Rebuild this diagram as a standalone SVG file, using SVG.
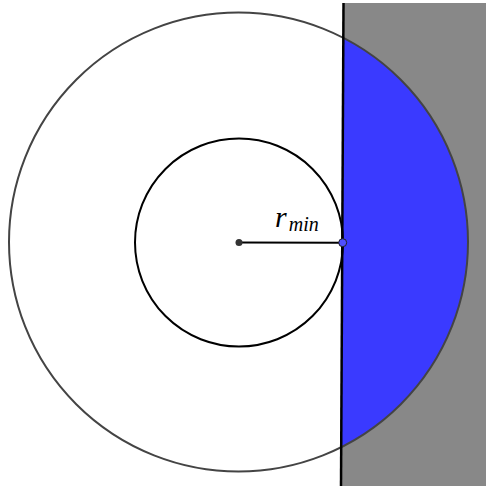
<svg xmlns="http://www.w3.org/2000/svg" width="486" height="486" viewBox="0 0 486 486">
<style>
.lbl{font-family:"Liberation Serif","DejaVu Serif",serif;font-style:italic;fill:#000}
</style>
<rect width="486" height="486" fill="#fff"/>
<g id="halfplane">
<polygon points="343.5,3 486,3 486,486 341,486" fill="#888888"/>
</g>
<g id="region">
<path d="M343.2 38 A229.5 229.5 0 0 1 341.3 447 Z" fill="#3a3aff"/>
</g>
<g id="outer-circle">
<circle cx="238.5" cy="242" r="229.5" fill="none" stroke="#444" stroke-width="2"/>
</g>
<g id="inner-circle">
<circle cx="239" cy="242.5" r="104" fill="none" stroke="#000" stroke-width="2"/>
</g>
<g id="connectors">
<line x1="343.5" y1="3" x2="341" y2="486" stroke="#000" stroke-width="2.5"/>
<line x1="239" y1="242.5" x2="342.7" y2="242.7" stroke="#000" stroke-width="2"/>
</g>
<g id="points">
<circle cx="239" cy="242.5" r="3.5" fill="#333"/>
<circle cx="342.7" cy="242.7" r="4" fill="#4f4fff" stroke="#222" stroke-width="1"/>
</g>
<g id="label">
<text class="lbl" x="275" y="227" font-size="30">r<tspan font-size="20" dx="2" dy="4">min</tspan></text>
</g>
</svg>
